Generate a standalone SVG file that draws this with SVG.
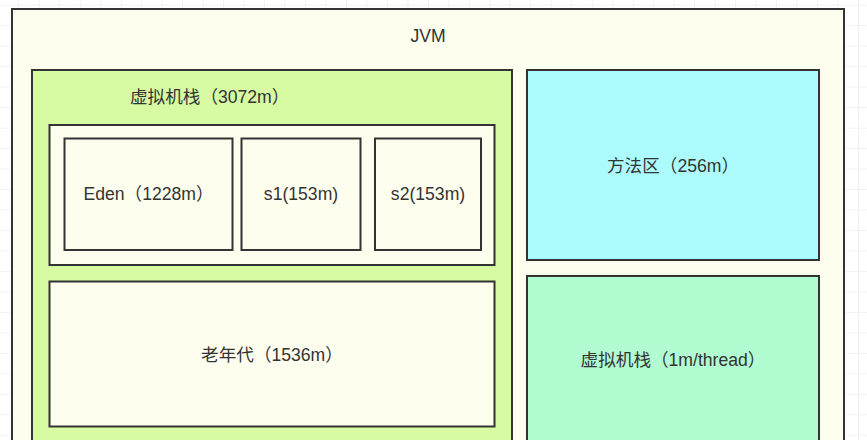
<svg xmlns="http://www.w3.org/2000/svg" width="867" height="440" viewBox="0 0 867 440">
<defs>
<pattern id="grid" x="-2.2" y="4.7" width="20.48" height="20.48" patternUnits="userSpaceOnUse">
<path d="M0 0H20.48M0 0V20.48" fill="none" stroke="#e6e6e6" stroke-width="1"/>
</pattern>
<style>
.box{stroke:#333;stroke-width:2}
.t{font-family:"Liberation Sans","Noto Sans CJK SC",sans-serif;font-size:17.6px;fill:#333;text-anchor:middle}
</style>
</defs>
<rect width="867" height="440" fill="#fff"/>
<rect width="867" height="440" fill="url(#grid)"/>
<g id="jvm">
<rect class="box" x="12" y="9" width="832" height="445" fill="#fefeee"/>
<text class="t" x="428" y="42">JVM</text>
</g>
<g id="heap">
<rect class="box" x="32" y="70" width="480" height="390" fill="#d6fba2"/>
<text class="t" x="130" y="103" style="text-anchor:start">虚拟机栈（3072m）</text>
</g>
<g id="young">
<rect class="box" x="49.5" y="125" width="445" height="140" fill="#fefeee"/>
</g>
<g id="eden">
<rect class="box" x="64.5" y="138.5" width="168" height="111.5" fill="#fefeee"/>
<text class="t" x="148.5" y="200">Eden（1228m）</text>
</g>
<g id="s1">
<rect class="box" x="241.5" y="138.5" width="119" height="111.5" fill="#fefeee"/>
<text class="t" x="301" y="200">s1(153m)</text>
</g>
<g id="s2">
<rect class="box" x="375" y="138.5" width="106" height="111.5" fill="#fefeee"/>
<text class="t" x="428" y="200">s2(153m)</text>
</g>
<g id="old">
<rect class="box" x="49.5" y="281.5" width="445" height="145" fill="#fefeee"/>
<text class="t" x="272" y="361">老年代（1536m）</text>
</g>
<g id="method">
<rect class="box" x="527" y="70" width="292" height="190" fill="#adfcfd"/>
<text class="t" x="673" y="171.5">方法区（256m）</text>
</g>
<g id="stack">
<rect class="box" x="527" y="276" width="292" height="200" fill="#b1fcd1"/>
<text class="t" x="673" y="365.5">虚拟机栈（1m/thread）</text>
</g>
<g id="connectors"></g>
</svg>
